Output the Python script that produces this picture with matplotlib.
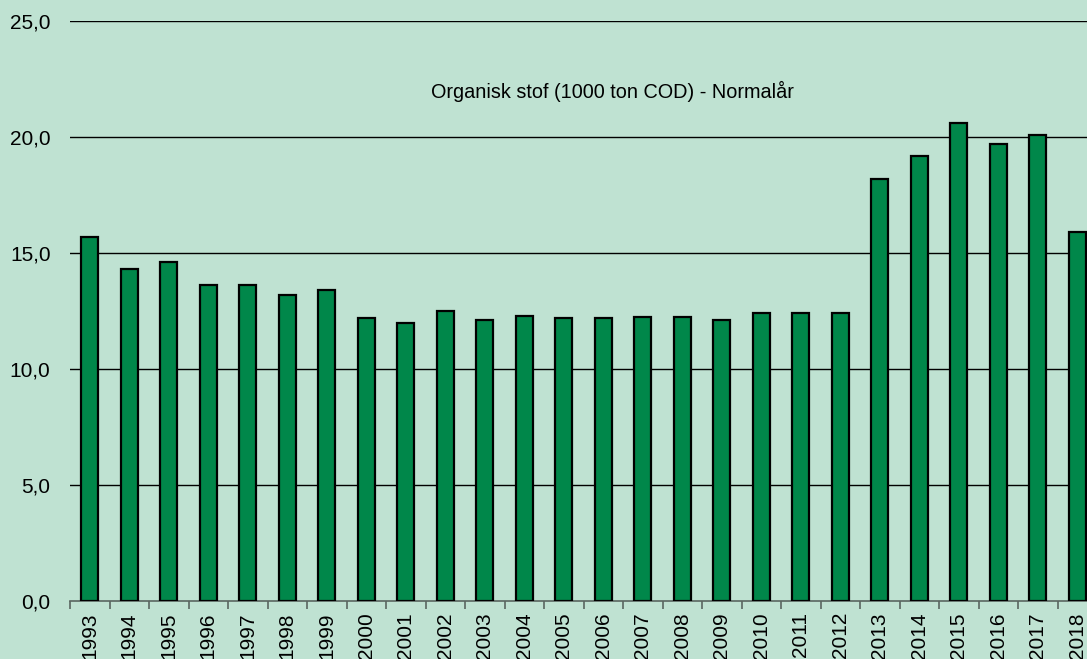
import matplotlib.pyplot as plt

plt.rcParams["font.family"] = ["Liberation Sans", "DejaVu Sans"]

years = ["1993", "1994", "1995", "1996", "1997", "1998", "1999", "2000", "2001",
         "2002", "2003", "2004", "2005", "2006", "2007", "2008", "2009", "2010",
         "2011", "2012", "2013", "2014", "2015", "2016", "2017", "2018"]
cod = [15.7, 14.3, 14.6, 13.6, 13.6, 13.2, 13.4, 12.2, 12.0,
       12.5, 12.1, 12.3, 12.2, 12.2, 12.25, 12.25, 12.1, 12.4,
       12.4, 12.4, 18.2, 19.2, 20.6, 19.7, 20.1, 15.9]
yticks = [0, 5, 10, 15, 20, 25]

bg = "#bfe2d2"
fig = plt.figure(figsize=(10.87, 6.59), dpi=100, facecolor=bg)
ax = fig.add_axes([70 / 1087, 58 / 659, 1027 / 1087, 580 / 659])
ax.set_facecolor(bg)

x = list(range(len(years)))
ax.bar(x, cod, width=0.42, color="#00874a", edgecolor="black", linewidth=1.6, zorder=3)

ax.set_xlim(-0.5, len(years) - 0.5)
ax.set_ylim(0, 25)
ax.set_yticks(yticks)
ax.set_yticklabels([f"{v:.1f}".replace(".", ",") for v in yticks], fontsize=15)
ax.tick_params(axis="y", length=0, pad=14)
for v in yticks[1:]:
    ax.axhline(v, color="black", linewidth=1, zorder=1)

ax.set_xticks([i - 0.5 for i in range(len(years) + 1)])
ax.set_xticklabels([])
ax.set_xticks(x, minor=True)
ax.set_xticklabels(years, minor=True, rotation=90, fontsize=15)
ax.tick_params(axis="x", which="major", length=6, color="#5a6660", width=1.2)
ax.tick_params(axis="x", which="minor", length=0, pad=8)

for s in ["top", "right", "left"]:
    ax.spines[s].set_visible(False)
ax.spines["bottom"].set_color("#5a6660")
ax.spines["bottom"].set_linewidth(1.2)

fig.text(612 / 1087, 1 - 91 / 659, "Organisk stof (1000 ton COD) - Normalår",
         ha="center", va="center", fontsize=14.3)

plt.savefig("out.png", dpi=100, facecolor=bg)
